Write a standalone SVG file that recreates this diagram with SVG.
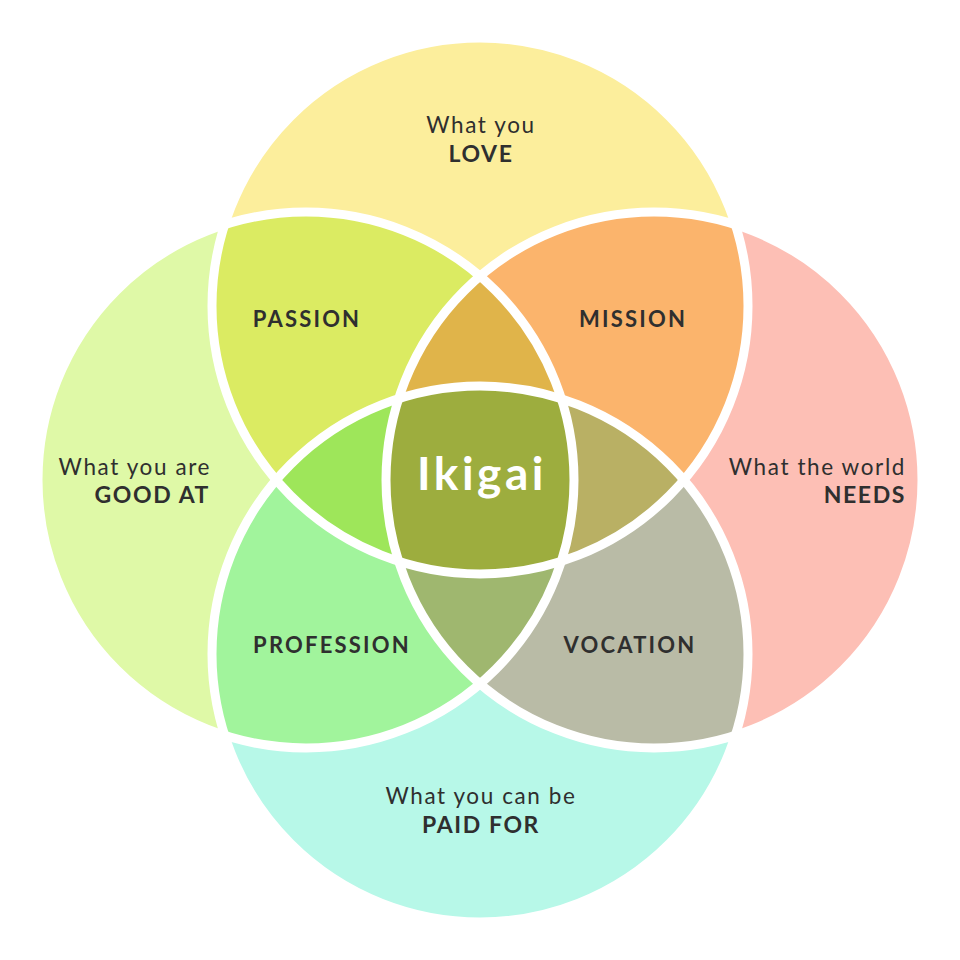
<svg xmlns="http://www.w3.org/2000/svg" width="960" height="960" viewBox="0 0 960 960">
  <style>
    .lbl { font-family: Lato, "Open Sans", "Liberation Sans", sans-serif; fill: #2f2f2f; }
    .reg { font-size: 22.5px; font-weight: 400; letter-spacing: 1.6px; }
    .cap { font-size: 23px; font-weight: 700; letter-spacing: 1.6px; }
    .zone { font-size: 22px; font-weight: 700; letter-spacing: 2.2px; text-anchor: middle; }
    .ring { fill: none; stroke: #ffffff; stroke-width: 9; }
  </style>
  <defs>
    <clipPath id="cT"><circle cx="480" cy="306" r="268"/></clipPath>
    <clipPath id="cL"><circle cx="306" cy="480" r="268"/></clipPath>
    <clipPath id="cR"><circle cx="654" cy="480" r="268"/></clipPath>
    <clipPath id="cB"><circle cx="480" cy="654" r="268"/></clipPath>
  </defs>
  <rect width="960" height="960" fill="#ffffff"/>

  <g id="love">
    <circle cx="480" cy="306" r="268" fill="#fcee9c"/>
  </g>
  <g id="good-at">
    <circle cx="306" cy="480" r="268" fill="#dff9a7"/>
  </g>
  <g id="needs">
    <circle cx="654" cy="480" r="268" fill="#fdbfb5"/>
  </g>
  <g id="paid-for">
    <circle cx="480" cy="654" r="268" fill="#b7f8e8"/>
  </g>

  <g id="passion" clip-path="url(#cT)">
    <circle cx="306" cy="480" r="268" fill="#dbeb62"/>
  </g>
  <g id="mission" clip-path="url(#cT)">
    <circle cx="654" cy="480" r="268" fill="#fbb46c"/>
  </g>
  <g id="profession" clip-path="url(#cB)">
    <circle cx="306" cy="480" r="268" fill="#a1f49c"/>
  </g>
  <g id="vocation" clip-path="url(#cB)">
    <circle cx="654" cy="480" r="268" fill="#b9bba6"/>
  </g>

  <g id="top-triple" clip-path="url(#cT)">
    <g clip-path="url(#cL)"><circle cx="654" cy="480" r="268" fill="#e0b44a"/></g>
  </g>
  <g id="left-triple" clip-path="url(#cT)">
    <g clip-path="url(#cL)"><circle cx="480" cy="654" r="268" fill="#9ee65a"/></g>
  </g>
  <g id="right-triple" clip-path="url(#cT)">
    <g clip-path="url(#cR)"><circle cx="480" cy="654" r="268" fill="#b9b064"/></g>
  </g>
  <g id="bottom-triple" clip-path="url(#cB)">
    <g clip-path="url(#cL)"><circle cx="654" cy="480" r="268" fill="#9fb76f"/></g>
  </g>
  <g id="ikigai" clip-path="url(#cT)">
    <g clip-path="url(#cL)"><g clip-path="url(#cR)"><circle cx="480" cy="654" r="268" fill="#9dad3e"/></g></g>
  </g>

  <g id="connectors">
    <circle class="ring" cx="480" cy="306" r="268"/>
    <circle class="ring" cx="306" cy="480" r="268"/>
    <circle class="ring" cx="654" cy="480" r="268"/>
    <circle class="ring" cx="480" cy="654" r="268"/>
  </g>

  <g id="labels">
    <text class="lbl reg" x="481" y="133" text-anchor="middle">What you</text>
    <text class="lbl cap" x="481" y="162" text-anchor="middle">LOVE</text>

    <text class="lbl reg" x="211" y="475" text-anchor="end">What you are</text>
    <text class="lbl cap" x="210" y="503" text-anchor="end">GOOD AT</text>

    <text class="lbl reg" x="906" y="475" text-anchor="end">What the world</text>
    <text class="lbl cap" x="906" y="503" text-anchor="end">NEEDS</text>

    <text class="lbl reg" x="481" y="804" text-anchor="middle">What you can be</text>
    <text class="lbl cap" x="481" y="833" text-anchor="middle">PAID FOR</text>

    <text class="lbl zone" x="307" y="327">PASSION</text>
    <text class="lbl zone" x="633" y="327">MISSION</text>
    <text class="lbl zone" x="332" y="653">PROFESSION</text>
    <text class="lbl zone" x="630" y="653">VOCATION</text>

    <text x="482" y="490" text-anchor="middle" font-family="Lato, 'Open Sans', 'Liberation Sans', sans-serif" font-size="46" font-weight="700" letter-spacing="3.5" fill="#ffffff">Ikigai</text>
  </g>
</svg>
